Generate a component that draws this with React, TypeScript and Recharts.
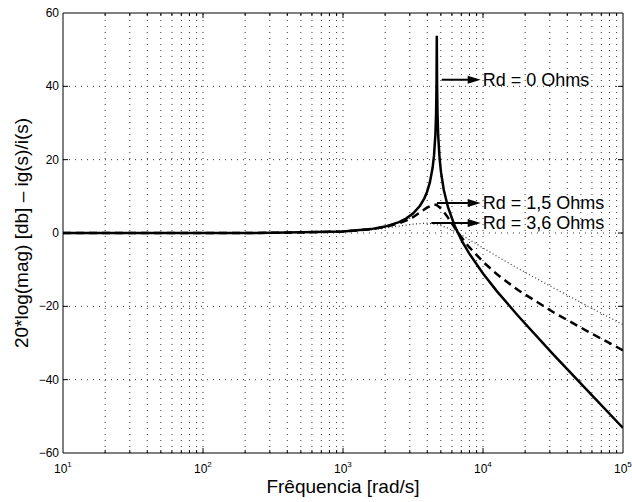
import React from "react";
import { LineChart, Line, XAxis, YAxis, ReferenceLine } from "recharts";

// Frequency samples (rad/s)
const frequencies = [10, 100, 316, 1000, 1585, 1995, 2512, 2818, 3162, 3548, 3802, 3981, 4169, 4365, 4467, 4571, 4624, 4656, 4677, 4699, 4732, 4786, 4898, 5012, 5248, 5623, 6310, 7079, 7943, 10000, 12589, 17783, 31623, 56234, 100000];
// Rd = 0 Ohms (solid)
const rd0 = [0, 0.0, 0.04, 0.41, 1.06, 1.75, 2.96, 3.92, 5.31, 7.44, 9.39, 11.19, 13.74, 17.79, 21.1, 26.9, 32.8, 40.8, 53.8, 40.7, 32.65, 26.54, 20.31, 16.58, 11.74, 7.03, 1.73, -2.22, -5.5, -11.06, -15.91, -22.57, -33.01, -43.14, -53.18];
// Rd = 1,5 Ohms (dashed)
const rd15 = [0, 0.0, 0.04, 0.4, 1.02, 1.64, 2.64, 3.35, 4.3, 5.6, 6.4, 6.9, 7.3, 7.6, 7.7, 7.7, 7.7, 7.65, 7.6, 7.55, 7.45, 7.3, 7.0, 6.6, 5.8, 4.2, 1.3, -1.4, -3.8, -7.85, -11.26, -15.57, -21.55, -26.88, -31.99];
// Rd = 3,6 Ohms (dotted)
const rd36 = [0, 0.0, 0.04, 0.38, 0.89, 1.32, 1.86, 2.15, 2.41, 2.58, 2.62, 2.61, 2.57, 2.49, 2.43, 2.35, 2.3, 2.27, 2.25, 2.23, 2.2, 2.15, 2.08, 2.0, 1.75, 1.31, 0.41, -0.63, -1.75, -4.07, -6.36, -9.66, -14.9, -19.98, -25.0];

const xTicks = [10, 100, 1000, 10000, 100000];
const xExponents = ["1", "2", "3", "4", "5"];
const yTicks = [-60, -40, -20, 0, 20, 40, 60];
const decades = [10, 100, 1000, 10000];
const multipliers = [2, 3, 4, 5, 6, 7, 8, 9];

const annotations = [
  { text: "Rd = 0 Ohms", x1: 5070, x2: 9630, y: 41.8 },
  { text: "Rd = 1,5 Ohms", x1: 4693, x2: 9630, y: 8.18 },
  { text: "Rd = 3,6 Ohms", x1: 4280, x2: 9630, y: 2.73 },
];

const data = frequencies.map((f, i) => ({ f, rd0: rd0[i], rd15: rd15[i], rd36: rd36[i] }));
const minorX = decades.flatMap((d) => multipliers.map((m) => m * d));
const majorXInner = [100, 1000, 10000];
const innerY = [-40, -20, 0, 20, 40];

const FONT = "'Liberation Sans', Arial, Helvetica, sans-serif";

const XTick = (props: any) => {
  const { x, y, payload } = props;
  const idx = xTicks.indexOf(payload.value);
  return (
    <text x={x - 9} y={y + 20} fontSize={12} fontFamily={FONT} fill="#000">
      <tspan>10</tspan>
      <tspan dy={-6} fontSize={8}>{xExponents[idx]}</tspan>
    </text>
  );
};

const YTick = (props: any) => {
  const { x, y, payload } = props;
  const v = payload.value;
  const s = v < 0 ? "\u2212" + Math.abs(v) : String(v);
  return (
    <text x={x} y={y + 4} textAnchor="end" fontSize={12} fontFamily={FONT} fill="#000">
      {s}
    </text>
  );
};

const XLabel = (props: any) => {
  const vb = props.viewBox;
  return (
    <text x={vb.x + vb.width / 2} y={vb.y + 40} textAnchor="middle" fontSize={19} fontFamily={FONT} fill="#000">
      Frêquencia [rad/s]
    </text>
  );
};

const YLabel = (props: any) => {
  const vb = props.viewBox;
  const cy = vb.y + vb.height / 2;
  const cx = 28;
  return (
    <text x={cx} y={cy} transform={`rotate(-90, ${cx}, ${cy})`} textAnchor="middle" fontSize={19} fontFamily={FONT} fill="#000">
      20*log(mag) [db] – ig(s)/i(s)
    </text>
  );
};

const makeArrow = (text: string) => (props: any) => {
  const { x1, y1, x2 } = props;
  return (
    <g>
      <line x1={x1} y1={y1} x2={x2 - 10} y2={y1} stroke="#000" strokeWidth={2} />
      <polygon points={`${x2},${y1} ${x2 - 13},${y1 - 4} ${x2 - 13},${y1 + 4}`} fill="#000" />
      <text x={x2 + 2} y={y1 + 6} fontSize={18} fontFamily={FONT} fill="#000">
        {text}
      </text>
    </g>
  );
};

const yTickDx = Math.pow(10, 5 / 140);
const grid = "#333";

export default function App() {
  return (
    <div style={{ width: 632, height: 502 }}>
      <style>{"body{margin:0;}"}</style>
      <LineChart
        width={632}
        height={502}
        data={data}
        margin={{ top: 13, right: 9, bottom: 0, left: 0 }}
        style={{ overflow: "visible" }}
      >
        {minorX.concat(majorXInner).map((v) => (
          <ReferenceLine key={"gx" + v} x={v} stroke={grid} strokeWidth={1} strokeDasharray="1 5" />
        ))}
        {innerY.map((v) => (
          <ReferenceLine key={"gy" + v} y={v} stroke={grid} strokeWidth={1} strokeDasharray="1 5" />
        ))}
        {minorX.map((v) => (
          <ReferenceLine key={"tb" + v} segment={[{ x: v, y: -60 }, { x: v, y: -59.18 }]} stroke="#000" />
        ))}
        {minorX.map((v) => (
          <ReferenceLine key={"tt" + v} segment={[{ x: v, y: 60 }, { x: v, y: 59.18 }]} stroke="#000" />
        ))}
        {majorXInner.map((v) => (
          <ReferenceLine key={"mb" + v} segment={[{ x: v, y: -60 }, { x: v, y: -58.6 }]} stroke="#000" />
        ))}
        {majorXInner.map((v) => (
          <ReferenceLine key={"mt" + v} segment={[{ x: v, y: 60 }, { x: v, y: 58.6 }]} stroke="#000" />
        ))}
        {innerY.map((v) => (
          <ReferenceLine key={"yl" + v} segment={[{ x: 10, y: v }, { x: 10 * yTickDx, y: v }]} stroke="#000" />
        ))}
        {innerY.map((v) => (
          <ReferenceLine key={"yr" + v} segment={[{ x: 100000 / yTickDx, y: v }, { x: 100000, y: v }]} stroke="#000" />
        ))}
        <ReferenceLine y={60} stroke="#000" strokeWidth={1} />
        <ReferenceLine x={100000} stroke="#000" strokeWidth={1} />
        <XAxis
          dataKey="f"
          type="number"
          scale="log"
          domain={[10, 100000]}
          ticks={xTicks}
          allowDataOverflow
          tickLine={false}
          tickSize={0}
          tickMargin={0}
          height={49}
          axisLine={{ stroke: "#000", strokeWidth: 1 }}
          tick={<XTick />}
          interval={0}
          label={<XLabel />}
        />
        <YAxis
          type="number"
          domain={[-60, 60]}
          ticks={yTicks}
          allowDataOverflow
          tickLine={false}
          tickSize={0}
          tickMargin={4}
          width={63}
          axisLine={{ stroke: "#000", strokeWidth: 1 }}
          tick={<YTick />}
          interval={0}
          label={<YLabel />}
        />
        <Line dataKey="rd36" stroke="#333" strokeWidth={1.2} strokeDasharray="1 2.5" dot={false} isAnimationActive={false} type="linear" />
        <Line dataKey="rd15" stroke="#000" strokeWidth={2.5} strokeDasharray="8 5" dot={false} isAnimationActive={false} type="linear" />
        <Line dataKey="rd0" stroke="#000" strokeWidth={2.5} dot={false} isAnimationActive={false} type="linear" />
        {annotations.map((a) => (
          <ReferenceLine
            key={a.text}
            segment={[{ x: a.x1, y: a.y }, { x: a.x2, y: a.y }]}
            stroke="#000"
            shape={makeArrow(a.text)}
            ifOverflow="visible"
          />
        ))}
      </LineChart>
    </div>
  );
}
